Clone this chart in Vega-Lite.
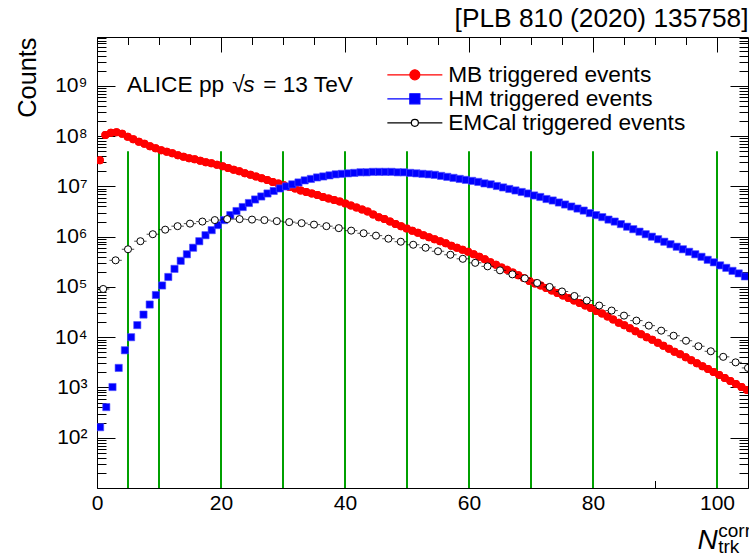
{
  "$schema": "https://vega.github.io/schema/vega-lite/v6.json",
  "width": 651,
  "height": 451,
  "autosize": "none",
  "padding": {"left": 97, "top": 37, "right": 1, "bottom": 67},
  "background": "white",
  "config": {
    "font": "Liberation Sans",
    "view": {"stroke": "black", "strokeWidth": 1},
    "axis": {
      "domain": false,
      "grid": false,
      "tickColor": "black",
      "tickWidth": 1,
      "labelFont": "Liberation Sans",
      "labelFontSize": 21,
      "labelColor": "black",
      "labelOverlap": false,
      "labelFlush": false,
      "titleFont": "Liberation Sans",
      "titleFontWeight": "normal",
      "titleColor": "black"
    }
  },
  "datasets": {
    "cuts": [
      {"ntrk": 5}, {"ntrk": 10}, {"ntrk": 20}, {"ntrk": 30}, {"ntrk": 40},
      {"ntrk": 50}, {"ntrk": 60}, {"ntrk": 70}, {"ntrk": 80}, {"ntrk": 100}
    ],
    "counts": [
      {"series": "MB triggered events", "n": 0.45, "counts": 3.31e7},
      {"series": "MB triggered events", "n": 1.35, "counts": 1.05e8},
      {"series": "MB triggered events", "n": 2.25, "counts": 1.17e8},
      {"series": "MB triggered events", "n": 3.15, "counts": 1.20e8},
      {"series": "MB triggered events", "n": 4.05, "counts": 1.12e8},
      {"series": "MB triggered events", "n": 4.95, "counts": 9.77e7},
      {"series": "MB triggered events", "n": 5.85, "counts": 8.71e7},
      {"series": "MB triggered events", "n": 6.75, "counts": 7.76e7},
      {"series": "MB triggered events", "n": 7.65, "counts": 7.08e7},
      {"series": "MB triggered events", "n": 8.55, "counts": 6.31e7},
      {"series": "MB triggered events", "n": 9.45, "counts": 5.75e7},
      {"series": "MB triggered events", "n": 10.35, "counts": 5.25e7},
      {"series": "MB triggered events", "n": 11.25, "counts": 4.90e7},
      {"series": "MB triggered events", "n": 12.15, "counts": 4.57e7},
      {"series": "MB triggered events", "n": 13.05, "counts": 4.17e7},
      {"series": "MB triggered events", "n": 13.95, "counts": 3.89e7},
      {"series": "MB triggered events", "n": 14.85, "counts": 3.63e7},
      {"series": "MB triggered events", "n": 15.75, "counts": 3.47e7},
      {"series": "MB triggered events", "n": 16.65, "counts": 3.24e7},
      {"series": "MB triggered events", "n": 17.55, "counts": 3.02e7},
      {"series": "MB triggered events", "n": 18.45, "counts": 2.88e7},
      {"series": "MB triggered events", "n": 19.35, "counts": 2.69e7},
      {"series": "MB triggered events", "n": 20.25, "counts": 2.51e7},
      {"series": "MB triggered events", "n": 21.15, "counts": 2.34e7},
      {"series": "MB triggered events", "n": 22.05, "counts": 2.14e7},
      {"series": "MB triggered events", "n": 22.95, "counts": 2.00e7},
      {"series": "MB triggered events", "n": 23.85, "counts": 1.82e7},
      {"series": "MB triggered events", "n": 24.75, "counts": 1.70e7},
      {"series": "MB triggered events", "n": 25.65, "counts": 1.58e7},
      {"series": "MB triggered events", "n": 26.55, "counts": 1.45e7},
      {"series": "MB triggered events", "n": 27.45, "counts": 1.35e7},
      {"series": "MB triggered events", "n": 28.35, "counts": 1.23e7},
      {"series": "MB triggered events", "n": 29.25, "counts": 1.15e7},
      {"series": "MB triggered events", "n": 30.15, "counts": 1.05e7},
      {"series": "MB triggered events", "n": 31.05, "counts": 9.77e6},
      {"series": "MB triggered events", "n": 31.95, "counts": 9.12e6},
      {"series": "MB triggered events", "n": 32.85, "counts": 8.32e6},
      {"series": "MB triggered events", "n": 33.75, "counts": 7.76e6},
      {"series": "MB triggered events", "n": 34.65, "counts": 7.24e6},
      {"series": "MB triggered events", "n": 35.55, "counts": 6.76e6},
      {"series": "MB triggered events", "n": 36.45, "counts": 6.17e6},
      {"series": "MB triggered events", "n": 37.35, "counts": 5.75e6},
      {"series": "MB triggered events", "n": 38.25, "counts": 5.37e6},
      {"series": "MB triggered events", "n": 39.15, "counts": 5.01e6},
      {"series": "MB triggered events", "n": 40.05, "counts": 4.57e6},
      {"series": "MB triggered events", "n": 40.95, "counts": 4.17e6},
      {"series": "MB triggered events", "n": 41.85, "counts": 3.80e6},
      {"series": "MB triggered events", "n": 42.75, "counts": 3.47e6},
      {"series": "MB triggered events", "n": 43.65, "counts": 3.16e6},
      {"series": "MB triggered events", "n": 44.55, "counts": 2.75e6},
      {"series": "MB triggered events", "n": 45.45, "counts": 2.45e6},
      {"series": "MB triggered events", "n": 46.35, "counts": 2.24e6},
      {"series": "MB triggered events", "n": 47.25, "counts": 2.00e6},
      {"series": "MB triggered events", "n": 48.15, "counts": 1.78e6},
      {"series": "MB triggered events", "n": 49.05, "counts": 1.62e6},
      {"series": "MB triggered events", "n": 49.95, "counts": 1.45e6},
      {"series": "MB triggered events", "n": 50.85, "counts": 1.32e6},
      {"series": "MB triggered events", "n": 51.75, "counts": 1.20e6},
      {"series": "MB triggered events", "n": 52.65, "counts": 1.07e6},
      {"series": "MB triggered events", "n": 53.55, "counts": 9.77e5},
      {"series": "MB triggered events", "n": 54.45, "counts": 8.91e5},
      {"series": "MB triggered events", "n": 55.35, "counts": 8.13e5},
      {"series": "MB triggered events", "n": 56.25, "counts": 7.41e5},
      {"series": "MB triggered events", "n": 57.15, "counts": 6.61e5},
      {"series": "MB triggered events", "n": 58.05, "counts": 6.03e5},
      {"series": "MB triggered events", "n": 58.95, "counts": 5.50e5},
      {"series": "MB triggered events", "n": 59.85, "counts": 5.01e5},
      {"series": "MB triggered events", "n": 60.75, "counts": 4.47e5},
      {"series": "MB triggered events", "n": 61.65, "counts": 3.98e5},
      {"series": "MB triggered events", "n": 62.55, "counts": 3.55e5},
      {"series": "MB triggered events", "n": 63.45, "counts": 3.09e5},
      {"series": "MB triggered events", "n": 64.35, "counts": 2.75e5},
      {"series": "MB triggered events", "n": 65.25, "counts": 2.45e5},
      {"series": "MB triggered events", "n": 66.15, "counts": 2.19e5},
      {"series": "MB triggered events", "n": 67.05, "counts": 1.95e5},
      {"series": "MB triggered events", "n": 67.95, "counts": 1.70e5},
      {"series": "MB triggered events", "n": 68.85, "counts": 1.51e5},
      {"series": "MB triggered events", "n": 69.75, "counts": 1.32e5},
      {"series": "MB triggered events", "n": 70.65, "counts": 1.17e5},
      {"series": "MB triggered events", "n": 71.55, "counts": 1.07e5},
      {"series": "MB triggered events", "n": 72.45, "counts": 9.55e4},
      {"series": "MB triggered events", "n": 73.35, "counts": 8.51e4},
      {"series": "MB triggered events", "n": 74.25, "counts": 7.59e4},
      {"series": "MB triggered events", "n": 75.15, "counts": 6.76e4},
      {"series": "MB triggered events", "n": 76.05, "counts": 6.03e4},
      {"series": "MB triggered events", "n": 76.95, "counts": 5.37e4},
      {"series": "MB triggered events", "n": 77.85, "counts": 4.79e4},
      {"series": "MB triggered events", "n": 78.75, "counts": 4.27e4},
      {"series": "MB triggered events", "n": 79.65, "counts": 3.80e4},
      {"series": "MB triggered events", "n": 80.55, "counts": 3.31e4},
      {"series": "MB triggered events", "n": 81.45, "counts": 2.95e4},
      {"series": "MB triggered events", "n": 82.35, "counts": 2.57e4},
      {"series": "MB triggered events", "n": 83.25, "counts": 2.24e4},
      {"series": "MB triggered events", "n": 84.15, "counts": 1.95e4},
      {"series": "MB triggered events", "n": 85.05, "counts": 1.74e4},
      {"series": "MB triggered events", "n": 85.95, "counts": 1.51e4},
      {"series": "MB triggered events", "n": 86.85, "counts": 1.32e4},
      {"series": "MB triggered events", "n": 87.75, "counts": 1.15e4},
      {"series": "MB triggered events", "n": 88.65, "counts": 1.00e4},
      {"series": "MB triggered events", "n": 89.55, "counts": 8.91e3},
      {"series": "MB triggered events", "n": 90.45, "counts": 7.76e3},
      {"series": "MB triggered events", "n": 91.35, "counts": 6.76e3},
      {"series": "MB triggered events", "n": 92.25, "counts": 5.89e3},
      {"series": "MB triggered events", "n": 93.15, "counts": 5.13e3},
      {"series": "MB triggered events", "n": 94.05, "counts": 4.57e3},
      {"series": "MB triggered events", "n": 94.95, "counts": 3.98e3},
      {"series": "MB triggered events", "n": 95.85, "counts": 3.47e3},
      {"series": "MB triggered events", "n": 96.75, "counts": 3.02e3},
      {"series": "MB triggered events", "n": 97.65, "counts": 2.63e3},
      {"series": "MB triggered events", "n": 98.55, "counts": 2.34e3},
      {"series": "MB triggered events", "n": 99.45, "counts": 2.04e3},
      {"series": "MB triggered events", "n": 100.35, "counts": 1.78e3},
      {"series": "MB triggered events", "n": 101.25, "counts": 1.55e3},
      {"series": "MB triggered events", "n": 102.15, "counts": 1.35e3},
      {"series": "MB triggered events", "n": 103.05, "counts": 1.17e3},
      {"series": "MB triggered events", "n": 103.95, "counts": 1.02e3},
      {"series": "MB triggered events", "n": 104.85, "counts": 8.91e2},

      {"series": "HM triggered events", "n": 0.5, "counts": 1.62e2},
      {"series": "HM triggered events", "n": 1.5, "counts": 4.07e2},
      {"series": "HM triggered events", "n": 2.5, "counts": 1.02e3},
      {"series": "HM triggered events", "n": 3.5, "counts": 2.45e3},
      {"series": "HM triggered events", "n": 4.5, "counts": 5.50e3},
      {"series": "HM triggered events", "n": 5.5, "counts": 1.00e4},
      {"series": "HM triggered events", "n": 6.5, "counts": 1.74e4},
      {"series": "HM triggered events", "n": 7.5, "counts": 2.82e4},
      {"series": "HM triggered events", "n": 8.5, "counts": 4.47e4},
      {"series": "HM triggered events", "n": 9.5, "counts": 6.92e4},
      {"series": "HM triggered events", "n": 10.5, "counts": 1.07e5},
      {"series": "HM triggered events", "n": 11.5, "counts": 1.58e5},
      {"series": "HM triggered events", "n": 12.5, "counts": 2.29e5},
      {"series": "HM triggered events", "n": 13.5, "counts": 3.31e5},
      {"series": "HM triggered events", "n": 14.5, "counts": 4.47e5},
      {"series": "HM triggered events", "n": 15.5, "counts": 6.03e5},
      {"series": "HM triggered events", "n": 16.5, "counts": 8.13e5},
      {"series": "HM triggered events", "n": 17.5, "counts": 1.07e6},
      {"series": "HM triggered events", "n": 18.5, "counts": 1.35e6},
      {"series": "HM triggered events", "n": 19.5, "counts": 1.70e6},
      {"series": "HM triggered events", "n": 20.5, "counts": 2.14e6},
      {"series": "HM triggered events", "n": 21.5, "counts": 2.69e6},
      {"series": "HM triggered events", "n": 22.5, "counts": 3.24e6},
      {"series": "HM triggered events", "n": 23.5, "counts": 3.89e6},
      {"series": "HM triggered events", "n": 24.5, "counts": 4.68e6},
      {"series": "HM triggered events", "n": 25.5, "counts": 5.50e6},
      {"series": "HM triggered events", "n": 26.5, "counts": 6.31e6},
      {"series": "HM triggered events", "n": 27.5, "counts": 7.24e6},
      {"series": "HM triggered events", "n": 28.5, "counts": 8.13e6},
      {"series": "HM triggered events", "n": 29.5, "counts": 9.12e6},
      {"series": "HM triggered events", "n": 30.5, "counts": 1.00e7},
      {"series": "HM triggered events", "n": 31.5, "counts": 1.10e7},
      {"series": "HM triggered events", "n": 32.5, "counts": 1.20e7},
      {"series": "HM triggered events", "n": 33.5, "counts": 1.32e7},
      {"series": "HM triggered events", "n": 34.5, "counts": 1.41e7},
      {"series": "HM triggered events", "n": 35.5, "counts": 1.51e7},
      {"series": "HM triggered events", "n": 36.5, "counts": 1.58e7},
      {"series": "HM triggered events", "n": 37.5, "counts": 1.66e7},
      {"series": "HM triggered events", "n": 38.5, "counts": 1.74e7},
      {"series": "HM triggered events", "n": 39.5, "counts": 1.78e7},
      {"series": "HM triggered events", "n": 40.5, "counts": 1.82e7},
      {"series": "HM triggered events", "n": 41.5, "counts": 1.86e7},
      {"series": "HM triggered events", "n": 42.5, "counts": 1.91e7},
      {"series": "HM triggered events", "n": 43.5, "counts": 1.91e7},
      {"series": "HM triggered events", "n": 44.5, "counts": 1.95e7},
      {"series": "HM triggered events", "n": 45.5, "counts": 1.95e7},
      {"series": "HM triggered events", "n": 46.5, "counts": 1.95e7},
      {"series": "HM triggered events", "n": 47.5, "counts": 1.95e7},
      {"series": "HM triggered events", "n": 48.5, "counts": 1.91e7},
      {"series": "HM triggered events", "n": 49.5, "counts": 1.91e7},
      {"series": "HM triggered events", "n": 50.5, "counts": 1.86e7},
      {"series": "HM triggered events", "n": 51.5, "counts": 1.82e7},
      {"series": "HM triggered events", "n": 52.5, "counts": 1.78e7},
      {"series": "HM triggered events", "n": 53.5, "counts": 1.74e7},
      {"series": "HM triggered events", "n": 54.5, "counts": 1.70e7},
      {"series": "HM triggered events", "n": 55.5, "counts": 1.62e7},
      {"series": "HM triggered events", "n": 56.5, "counts": 1.55e7},
      {"series": "HM triggered events", "n": 57.5, "counts": 1.48e7},
      {"series": "HM triggered events", "n": 58.5, "counts": 1.41e7},
      {"series": "HM triggered events", "n": 59.5, "counts": 1.35e7},
      {"series": "HM triggered events", "n": 60.5, "counts": 1.29e7},
      {"series": "HM triggered events", "n": 61.5, "counts": 1.23e7},
      {"series": "HM triggered events", "n": 62.5, "counts": 1.15e7},
      {"series": "HM triggered events", "n": 63.5, "counts": 1.10e7},
      {"series": "HM triggered events", "n": 64.5, "counts": 1.02e7},
      {"series": "HM triggered events", "n": 65.5, "counts": 9.55e6},
      {"series": "HM triggered events", "n": 66.5, "counts": 8.91e6},
      {"series": "HM triggered events", "n": 67.5, "counts": 8.32e6},
      {"series": "HM triggered events", "n": 68.5, "counts": 7.76e6},
      {"series": "HM triggered events", "n": 69.5, "counts": 7.24e6},
      {"series": "HM triggered events", "n": 70.5, "counts": 6.61e6},
      {"series": "HM triggered events", "n": 71.5, "counts": 6.17e6},
      {"series": "HM triggered events", "n": 72.5, "counts": 5.62e6},
      {"series": "HM triggered events", "n": 73.5, "counts": 5.25e6},
      {"series": "HM triggered events", "n": 74.5, "counts": 4.79e6},
      {"series": "HM triggered events", "n": 75.5, "counts": 4.37e6},
      {"series": "HM triggered events", "n": 76.5, "counts": 3.98e6},
      {"series": "HM triggered events", "n": 77.5, "counts": 3.63e6},
      {"series": "HM triggered events", "n": 78.5, "counts": 3.31e6},
      {"series": "HM triggered events", "n": 79.5, "counts": 2.95e6},
      {"series": "HM triggered events", "n": 80.5, "counts": 2.69e6},
      {"series": "HM triggered events", "n": 81.5, "counts": 2.45e6},
      {"series": "HM triggered events", "n": 82.5, "counts": 2.19e6},
      {"series": "HM triggered events", "n": 83.5, "counts": 2.00e6},
      {"series": "HM triggered events", "n": 84.5, "counts": 1.78e6},
      {"series": "HM triggered events", "n": 85.5, "counts": 1.58e6},
      {"series": "HM triggered events", "n": 86.5, "counts": 1.41e6},
      {"series": "HM triggered events", "n": 87.5, "counts": 1.26e6},
      {"series": "HM triggered events", "n": 88.5, "counts": 1.12e6},
      {"series": "HM triggered events", "n": 89.5, "counts": 1.00e6},
      {"series": "HM triggered events", "n": 90.5, "counts": 8.91e5},
      {"series": "HM triggered events", "n": 91.5, "counts": 7.94e5},
      {"series": "HM triggered events", "n": 92.5, "counts": 7.08e5},
      {"series": "HM triggered events", "n": 93.5, "counts": 6.31e5},
      {"series": "HM triggered events", "n": 94.5, "counts": 5.62e5},
      {"series": "HM triggered events", "n": 95.5, "counts": 5.01e5},
      {"series": "HM triggered events", "n": 96.5, "counts": 4.47e5},
      {"series": "HM triggered events", "n": 97.5, "counts": 3.98e5},
      {"series": "HM triggered events", "n": 98.5, "counts": 3.47e5},
      {"series": "HM triggered events", "n": 99.5, "counts": 3.09e5},
      {"series": "HM triggered events", "n": 100.5, "counts": 2.69e5},
      {"series": "HM triggered events", "n": 101.5, "counts": 2.40e5},
      {"series": "HM triggered events", "n": 102.5, "counts": 2.09e5},
      {"series": "HM triggered events", "n": 103.5, "counts": 1.86e5},
      {"series": "HM triggered events", "n": 104.5, "counts": 1.62e5},

      {"series": "EMCal triggered events", "n": 1, "counts": 9.12e4},
      {"series": "EMCal triggered events", "n": 3, "counts": 3.39e5},
      {"series": "EMCal triggered events", "n": 5, "counts": 5.62e5},
      {"series": "EMCal triggered events", "n": 7, "counts": 8.13e5},
      {"series": "EMCal triggered events", "n": 9, "counts": 1.12e6},
      {"series": "EMCal triggered events", "n": 11, "counts": 1.38e6},
      {"series": "EMCal triggered events", "n": 13, "counts": 1.62e6},
      {"series": "EMCal triggered events", "n": 15, "counts": 1.82e6},
      {"series": "EMCal triggered events", "n": 17, "counts": 2.00e6},
      {"series": "EMCal triggered events", "n": 19, "counts": 2.14e6},
      {"series": "EMCal triggered events", "n": 21, "counts": 2.24e6},
      {"series": "EMCal triggered events", "n": 23, "counts": 2.24e6},
      {"series": "EMCal triggered events", "n": 25, "counts": 2.19e6},
      {"series": "EMCal triggered events", "n": 27, "counts": 2.14e6},
      {"series": "EMCal triggered events", "n": 29, "counts": 2.04e6},
      {"series": "EMCal triggered events", "n": 31, "counts": 1.95e6},
      {"series": "EMCal triggered events", "n": 33, "counts": 1.86e6},
      {"series": "EMCal triggered events", "n": 35, "counts": 1.74e6},
      {"series": "EMCal triggered events", "n": 37, "counts": 1.62e6},
      {"series": "EMCal triggered events", "n": 39, "counts": 1.48e6},
      {"series": "EMCal triggered events", "n": 41, "counts": 1.32e6},
      {"series": "EMCal triggered events", "n": 43, "counts": 1.17e6},
      {"series": "EMCal triggered events", "n": 45, "counts": 1.05e6},
      {"series": "EMCal triggered events", "n": 47, "counts": 9.12e5},
      {"series": "EMCal triggered events", "n": 49, "counts": 7.94e5},
      {"series": "EMCal triggered events", "n": 51, "counts": 6.92e5},
      {"series": "EMCal triggered events", "n": 53, "counts": 6.03e5},
      {"series": "EMCal triggered events", "n": 55, "counts": 5.13e5},
      {"series": "EMCal triggered events", "n": 57, "counts": 4.37e5},
      {"series": "EMCal triggered events", "n": 59, "counts": 3.63e5},
      {"series": "EMCal triggered events", "n": 61, "counts": 3.02e5},
      {"series": "EMCal triggered events", "n": 63, "counts": 2.57e5},
      {"series": "EMCal triggered events", "n": 65, "counts": 2.14e5},
      {"series": "EMCal triggered events", "n": 67, "counts": 1.78e5},
      {"series": "EMCal triggered events", "n": 69, "counts": 1.48e5},
      {"series": "EMCal triggered events", "n": 71, "counts": 1.20e5},
      {"series": "EMCal triggered events", "n": 73, "counts": 1.00e5},
      {"series": "EMCal triggered events", "n": 75, "counts": 8.13e4},
      {"series": "EMCal triggered events", "n": 77, "counts": 6.61e4},
      {"series": "EMCal triggered events", "n": 79, "counts": 5.37e4},
      {"series": "EMCal triggered events", "n": 81, "counts": 4.27e4},
      {"series": "EMCal triggered events", "n": 83, "counts": 3.39e4},
      {"series": "EMCal triggered events", "n": 85, "counts": 2.69e4},
      {"series": "EMCal triggered events", "n": 87, "counts": 2.14e4},
      {"series": "EMCal triggered events", "n": 89, "counts": 1.70e4},
      {"series": "EMCal triggered events", "n": 91, "counts": 1.35e4},
      {"series": "EMCal triggered events", "n": 93, "counts": 1.07e4},
      {"series": "EMCal triggered events", "n": 95, "counts": 8.51e3},
      {"series": "EMCal triggered events", "n": 97, "counts": 6.61e3},
      {"series": "EMCal triggered events", "n": 99, "counts": 5.25e3},
      {"series": "EMCal triggered events", "n": 101, "counts": 4.07e3},
      {"series": "EMCal triggered events", "n": 103, "counts": 3.16e3},
      {"series": "EMCal triggered events", "n": 105, "counts": 2.45e3}
    ]
  },
  "layer": [
    {
      "layer": [
        {
          "data": {"name": "counts"},
          "transform": [{"filter": "datum.series === 'MB triggered events'"}],
          "mark": {"type": "point", "shape": "circle", "filled": true, "size": 64, "fill": "#ff0000", "strokeWidth": 0, "opacity": 1, "clip": true},
          "encoding": {
            "x": {
              "field": "n", "type": "quantitative",
              "scale": {"domain": [0, 105], "nice": false},
              "axis": {
                "orient": "bottom",
                "values": [0, 5, 10, 15, 20, 25, 30, 35, 40, 45, 50, 55, 60, 65, 70, 75, 80, 85, 90, 95, 100],
                "labelExpr": "datum.value % 20 === 0 ? datum.label : ''",
                "tickSize": {"condition": {"test": "datum.value % 20 === 0", "value": -15}, "value": -7.5},
                "labelPadding": 19,
                "labelBaseline": "top",
                "labelAlign": "center",
                "title": "N",
                "titleFontStyle": "italic",
                "titleFontSize": 28,
                "titleAlign": "left",
                "titleBaseline": "alphabetic",
                "titleAngle": 0,
                "titleX": 600,
                "titleY": 60
              }
            },
            "y": {
              "field": "counts", "type": "quantitative",
              "scale": {"type": "log", "domain": [10, 9.4e9], "nice": false},
              "axis": {
                "orient": "left",
                "values": [10, 20, 30, 40, 50, 60, 70, 80, 90,
                  100, 200, 300, 400, 500, 600, 700, 800, 900,
                  1000, 2000, 3000, 4000, 5000, 6000, 7000, 8000, 9000,
                  1e4, 2e4, 3e4, 4e4, 5e4, 6e4, 7e4, 8e4, 9e4,
                  1e5, 2e5, 3e5, 4e5, 5e5, 6e5, 7e5, 8e5, 9e5,
                  1e6, 2e6, 3e6, 4e6, 5e6, 6e6, 7e6, 8e6, 9e6,
                  1e7, 2e7, 3e7, 4e7, 5e7, 6e7, 7e7, 8e7, 9e7,
                  1e8, 2e8, 3e8, 4e8, 5e8, 6e8, 7e8, 8e8, 9e8,
                  1e9, 2e9, 3e9, 4e9, 5e9, 6e9, 7e9, 8e9, 9e9],
                "labelExpr": "abs(log(datum.value)/LN10 - round(log(datum.value)/LN10)) < 1e-6 && datum.value > 50 && datum.value < 2e9 ? '10' + substring('⁰¹²³⁴⁵⁶⁷⁸⁹', round(log(datum.value)/LN10), round(log(datum.value)/LN10) + 1) : ''",
                "tickSize": {"condition": {"test": "abs(log(datum.value)/LN10 - round(log(datum.value)/LN10)) < 1e-6", "value": -18}, "value": -9},
                "labelPadding": 28,
                "labelAlign": "right",
                "labelBaseline": "middle",
                "title": "Counts",
                "titleFontSize": 25.3,
                "titleAngle": -90,
                "titleAlign": "right",
                "titleBaseline": "alphabetic",
                "titleX": -62,
                "titleY": 0
              }
            }
          }
        },
        {
          "data": {"name": "cuts"},
          "mark": {"type": "rule", "color": "#00a000", "strokeWidth": 2},
          "encoding": {
            "x": {"field": "ntrk", "type": "quantitative", "scale": {"domain": [0, 105], "nice": false}},
            "y": {"datum": 10, "type": "quantitative", "scale": {"type": "log", "domain": [10, 9.4e9], "nice": false}},
            "y2": {"datum": 5e7}
          }
        },
        {
          "data": {"name": "counts"},
          "transform": [{"filter": "datum.series === 'MB triggered events'"}],
          "mark": {"type": "point", "shape": "circle", "filled": true, "size": 64, "fill": "#ff0000", "strokeWidth": 0, "opacity": 1, "clip": true},
          "encoding": {
            "x": {"field": "n", "type": "quantitative", "scale": {"domain": [0, 105], "nice": false}},
            "y": {"field": "counts", "type": "quantitative", "scale": {"type": "log", "domain": [10, 9.4e9], "nice": false}}
          }
        },
        {
          "data": {"name": "counts"},
          "transform": [{"filter": "datum.series === 'HM triggered events'"}],
          "mark": {"type": "point", "shape": "square", "filled": true, "size": 52, "fill": "#0000ff", "stroke": "#4d4dff", "strokeWidth": 0.6, "opacity": 1, "clip": true},
          "encoding": {
            "x": {"field": "n", "type": "quantitative", "scale": {"domain": [0, 105], "nice": false}},
            "y": {"field": "counts", "type": "quantitative", "scale": {"type": "log", "domain": [10, 9.4e9], "nice": false}}
          }
        },
        {
          "data": {"name": "counts"},
          "transform": [{"filter": "datum.series === 'EMCal triggered events'"}],
          "mark": {"type": "tick", "orient": "horizontal", "size": 12.4, "thickness": 1, "color": "black", "clip": true},
          "encoding": {
            "x": {"field": "n", "type": "quantitative", "scale": {"domain": [0, 105], "nice": false}},
            "y": {"field": "counts", "type": "quantitative", "scale": {"type": "log", "domain": [10, 9.4e9], "nice": false}}
          }
        },
        {
          "data": {"name": "counts"},
          "transform": [{"filter": "datum.series === 'EMCal triggered events'"}],
          "mark": {"type": "point", "shape": "circle", "filled": true, "size": 50, "fill": "white", "stroke": "black", "strokeWidth": 1, "opacity": 1, "clip": true},
          "encoding": {
            "x": {"field": "n", "type": "quantitative", "scale": {"domain": [0, 105], "nice": false}},
            "y": {"field": "counts", "type": "quantitative", "scale": {"type": "log", "domain": [10, 9.4e9], "nice": false}}
          }
        },
        {
          "data": {"name": "counts"},
          "mark": {"type": "point", "filled": true, "strokeWidth": 1.2, "opacity": 1, "clip": true},
          "encoding": {
            "x": {"field": "n", "type": "quantitative", "scale": {"domain": [0, 105], "nice": false}},
            "y": {"datum": 1, "type": "quantitative", "scale": {"type": "log", "domain": [10, 9.4e9], "nice": false}},
            "shape": {
              "field": "series", "type": "nominal",
              "scale": {
                "domain": ["MB triggered events", "HM triggered events", "EMCal triggered events"],
                "range": [
                  "M-5,0H5M0.91,0A0.91,0.91,0,1,1,-0.91,0A0.91,0.91,0,1,1,0.91,0Z",
                  "M-5,0H5M-0.91,-0.91H0.91V0.91H-0.91Z",
                  "M-5,0H-0.64M0.64,0H5M0.64,0A0.64,0.64,0,1,1,-0.64,0A0.64,0.64,0,1,1,0.64,0Z"
                ]
              },
              "legend": {
                "title": null,
                "orient": "none",
                "legendX": 306.5,
                "legendY": 26.5,
                "padding": 0,
                "rowPadding": 0,
                "symbolSize": 121,
                "symbolStrokeWidth": 1.2,
                "symbolOpacity": 1,
                "labelOffset": 22,
                "labelFont": "Liberation Sans",
                "labelFontSize": 22.7,
                "labelColor": "black",
                "labelLimit": 0
              }
            },
            "fill": {
              "field": "series", "type": "nominal",
              "scale": {
                "domain": ["MB triggered events", "HM triggered events", "EMCal triggered events"],
                "range": ["#ff0000", "#0000ff", "#ffffff"]
              }
            },
            "stroke": {
              "field": "series", "type": "nominal",
              "scale": {
                "domain": ["MB triggered events", "HM triggered events", "EMCal triggered events"],
                "range": ["#ff0000", "#0000ff", "#000000"]
              }
            }
          }
        },
        {
          "data": {"values": [{}]},
          "mark": {"type": "text", "text": "ALICE pp", "font": "Liberation Sans", "fontSize": 22.7, "align": "left", "baseline": "alphabetic", "color": "black"},
          "encoding": {
            "x": {"datum": 4.84, "type": "quantitative", "scale": {"domain": [0, 105], "nice": false}},
            "y": {"datum": 7.74e8, "type": "quantitative", "scale": {"type": "log", "domain": [10, 9.4e9], "nice": false}}
          }
        },
        {
          "data": {"values": [{}]},
          "mark": {"type": "text", "text": "√", "font": "Liberation Sans", "fontSize": 22.7, "align": "left", "baseline": "alphabetic", "color": "black"},
          "encoding": {
            "x": {"datum": 21.8, "type": "quantitative", "scale": {"domain": [0, 105], "nice": false}},
            "y": {"datum": 7.74e8, "type": "quantitative", "scale": {"type": "log", "domain": [10, 9.4e9], "nice": false}}
          }
        },
        {
          "data": {"values": [{}]},
          "mark": {"type": "text", "text": "s", "font": "Liberation Sans", "fontSize": 22.7, "fontStyle": "italic", "align": "left", "baseline": "alphabetic", "color": "black"},
          "encoding": {
            "x": {"datum": 23.6, "type": "quantitative", "scale": {"domain": [0, 105], "nice": false}},
            "y": {"datum": 7.74e8, "type": "quantitative", "scale": {"type": "log", "domain": [10, 9.4e9], "nice": false}}
          }
        },
        {
          "data": {"values": [{}]},
          "mark": {"type": "text", "text": "= 13 TeV", "font": "Liberation Sans", "fontSize": 22.7, "align": "left", "baseline": "alphabetic", "color": "black"},
          "encoding": {
            "x": {"datum": 26.8, "type": "quantitative", "scale": {"domain": [0, 105], "nice": false}},
            "y": {"datum": 7.74e8, "type": "quantitative", "scale": {"type": "log", "domain": [10, 9.4e9], "nice": false}}
          }
        },
        {
          "data": {"values": [{}]},
          "mark": {"type": "text", "text": "corr", "font": "Liberation Sans", "fontSize": 19, "align": "left", "baseline": "alphabetic", "color": "black"},
          "encoding": {
            "x": {"datum": 100.2, "type": "quantitative", "scale": {"domain": [0, 105], "nice": false}},
            "y": {"datum": 1.08, "type": "quantitative", "scale": {"type": "log", "domain": [10, 9.4e9], "nice": false}}
          }
        },
        {
          "data": {"values": [{}]},
          "mark": {"type": "text", "text": "trk", "font": "Liberation Sans", "fontSize": 19, "align": "left", "baseline": "alphabetic", "color": "black"},
          "encoding": {
            "x": {"datum": 100.2, "type": "quantitative", "scale": {"domain": [0, 105], "nice": false}},
            "y": {"datum": 0.5, "type": "quantitative", "scale": {"type": "log", "domain": [10, 9.4e9], "nice": false}}
          }
        }
      ]
    },
    {
      "data": {"name": "cuts"},
      "mark": {"type": "point", "opacity": 0},
      "encoding": {
        "x": {
          "field": "ntrk", "type": "quantitative",
          "scale": {"domain": [0, 105], "nice": false},
          "axis": {
            "orient": "top",
            "values": [0, 5, 10, 15, 20, 25, 30, 35, 40, 45, 50, 55, 60, 65, 70, 75, 80, 85, 90, 95, 100],
            "labels": false,
            "tickSize": {"condition": {"test": "datum.value % 20 === 0", "value": -15}, "value": -7.5},
            "title": "[PLB 810 (2020) 135758]",
            "titleFontSize": 26.3,
            "titleAlign": "right",
            "titleBaseline": "alphabetic",
            "titleAngle": 0,
            "titleX": 651,
            "titleY": -11
          }
        },
        "y": {
          "datum": 100, "type": "quantitative",
          "scale": {"type": "log", "domain": [10, 9.4e9], "nice": false},
          "axis": {
            "orient": "right",
            "values": [10, 20, 30, 40, 50, 60, 70, 80, 90,
              100, 200, 300, 400, 500, 600, 700, 800, 900,
              1000, 2000, 3000, 4000, 5000, 6000, 7000, 8000, 9000,
              1e4, 2e4, 3e4, 4e4, 5e4, 6e4, 7e4, 8e4, 9e4,
              1e5, 2e5, 3e5, 4e5, 5e5, 6e5, 7e5, 8e5, 9e5,
              1e6, 2e6, 3e6, 4e6, 5e6, 6e6, 7e6, 8e6, 9e6,
              1e7, 2e7, 3e7, 4e7, 5e7, 6e7, 7e7, 8e7, 9e7,
              1e8, 2e8, 3e8, 4e8, 5e8, 6e8, 7e8, 8e8, 9e8,
              1e9, 2e9, 3e9, 4e9, 5e9, 6e9, 7e9, 8e9, 9e9],
            "labels": false,
            "tickSize": {"condition": {"test": "abs(log(datum.value)/LN10 - round(log(datum.value)/LN10)) < 1e-6", "value": -18}, "value": -9},
            "title": null
          }
        }
      }
    }
  ],
  "resolve": {"scale": {"x": "independent", "y": "independent"}}
}
